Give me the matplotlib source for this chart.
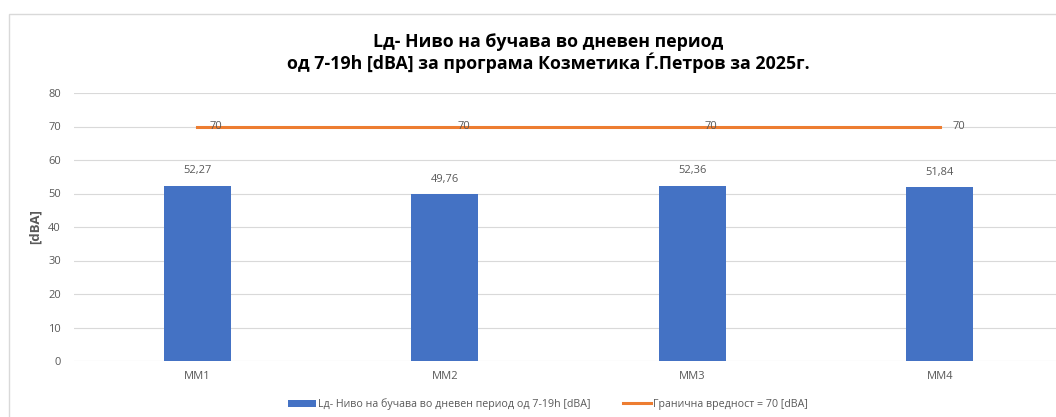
import matplotlib.pyplot as plt
from matplotlib.patches import Rectangle

# Day-time noise level per measuring point, with the legal limit
points = ["MM1", "MM2", "MM3", "MM4"]
ld_values = [52.27, 49.76, 52.36, 51.84]
limit_values = [70, 70, 70, 70]

title = ("Lд- Ниво на бучава во дневен период\n"
         "од 7-19h [dBA] за програма Козметика Ѓ.Петров за 2025г.")
bar_label = "Lд- Ниво на бучава во дневен период од 7-19h [dBA]"
line_label = "Гранична вредност = 70 [dBA]"

plt.rcParams['font.family'] = ['Open Sans', 'DejaVu Sans']
GREY = "#595959"
BLUE = "#4472C4"
ORANGE = "#ED7D31"

W, H = 1056, 417
fig = plt.figure(figsize=(W / 100, H / 100), dpi=100)

# chart frame (continues past the right/bottom edge)
fig.patches.append(Rectangle((9 / W, -0.1), 1.2, 1.1 - 14 / H,
                             transform=fig.transFigure, fill=False,
                             edgecolor="#D9D9D9", linewidth=1.0))

left, right = 73.5 / W, (73.5 + 4 * 247.5) / W
bottom, top = 1 - 361 / H, 1 - 93 / H
ax = fig.add_axes([left, bottom, right - left, top - bottom])

x = list(range(len(points)))
bars = ax.bar(x, ld_values, width=0.27, color=BLUE, zorder=3)
line, = ax.plot(x, limit_values, color=ORANGE, linewidth=2.2, zorder=4)

for xi, v in zip(x, ld_values):
    ax.annotate(f"{v:.2f}".replace(".", ","), (xi, v), xytext=(0, 7),
                textcoords="offset points", ha="center", va="bottom",
                fontsize=8, color=GREY)
for xi, v in zip(x, limit_values):
    ax.annotate(f"{v}", (xi, v), xytext=(9, 0), textcoords="offset points",
                ha="left", va="center", fontsize=8, color=GREY, zorder=5)

ax.set_xlim(-0.5, len(points) - 0.5)
ax.set_ylim(0, 80)
ax.set_yticks(range(0, 81, 10))
ax.set_xticks(x)
ax.set_xticklabels(points)
ax.grid(axis="y", color="#D9D9D9", linewidth=0.8, zorder=0)
for s in ax.spines.values():
    s.set_visible(False)
ax.tick_params(length=0, labelsize=8, colors=GREY)
ax.tick_params(axis="y", pad=9)
ax.tick_params(axis="x", pad=7)
ax.set_ylabel("[dBA]", fontsize=9.5, fontweight="bold", color=GREY, labelpad=5)

fig.text(548 / W, 1 - 53 / H, title, ha="center", va="center",
         fontsize=12.8, fontweight="bold", color="black", linespacing=1.05)

fig.legend([bars, line], [bar_label, line_label], loc="center",
           bbox_to_anchor=(548 / W, 1 - 404 / H), ncol=2,
           frameon=False, fontsize=7.7, labelcolor=GREY, handlelength=2.6,
           handleheight=0.6, handletextpad=0.2, columnspacing=3.0)

fig.savefig("out.png", dpi=100)
